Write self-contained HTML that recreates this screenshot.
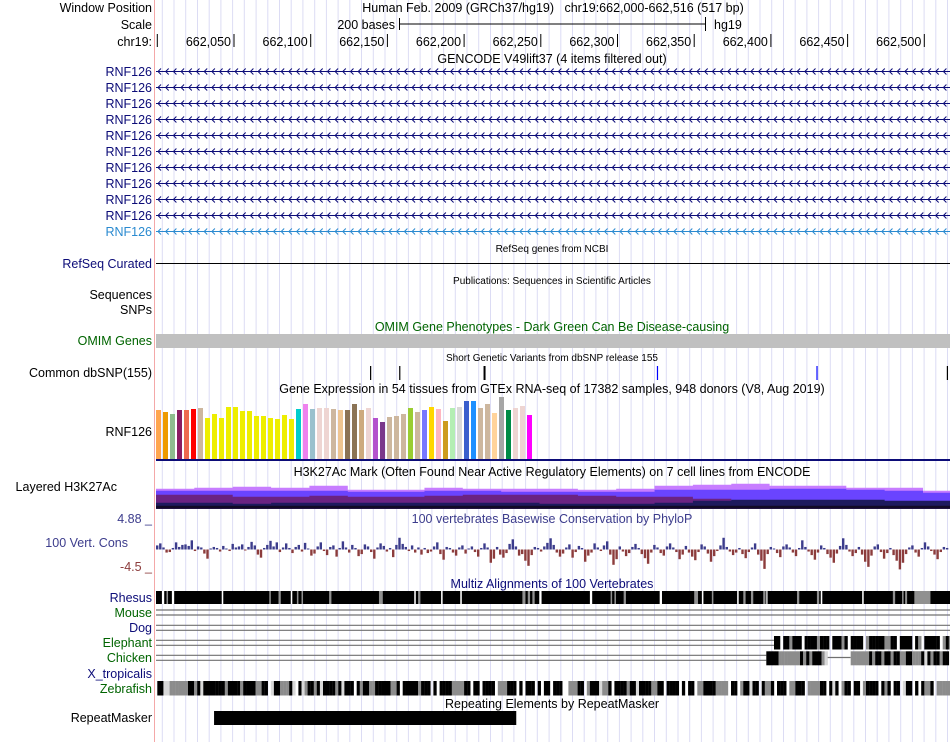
<!DOCTYPE html>
<html><head><meta charset="utf-8"><style>
html,body{margin:0;padding:0;background:#fff}
svg{display:block;font-family:"Liberation Sans",sans-serif}
</style></head><body>
<svg id="s" width="950" height="742" xmlns="http://www.w3.org/2000/svg">
<rect width="950" height="742" fill="#fff"/>
<g id="grid"></g>
<line x1="154.5" y1="0" x2="154.5" y2="742" stroke="#f4a8a8" stroke-width="1"/>
<g font-size="12.5" fill="#000" text-anchor="end">
<text x="152" y="12">Window Position</text>
<text x="152" y="29">Scale</text>
<text x="152" y="46">chr19:</text>
</g>
<text x="553" y="12" font-size="12.5" text-anchor="middle" xml:space="preserve">Human Feb. 2009 (GRCh37/hg19)   chr19:662,000-662,516 (517 bp)</text>
<text x="395" y="29" font-size="12.5" text-anchor="end">200 bases</text>
<line x1="399.5" y1="24" x2="705.5" y2="24" stroke="#000"/>
<line x1="399.5" y1="18" x2="399.5" y2="30" stroke="#000"/>
<line x1="705.5" y1="17" x2="705.5" y2="31" stroke="#000"/>
<text x="714" y="29" font-size="12.5">hg19</text>
<g id="ruler"></g>
<text x="552" y="63" font-size="12.5" text-anchor="middle">GENCODE V49lift37 (4 items filtered out)</text>
<g id="genes"></g>
<text x="552" y="252" font-size="10" text-anchor="middle">RefSeq genes from NCBI</text>
<text x="152" y="268" font-size="12.5" fill="#0c0c78" text-anchor="end">RefSeq Curated</text>
<line x1="156" y1="263.5" x2="950" y2="263.5" stroke="#000"/>
<text x="552" y="284" font-size="10" text-anchor="middle">Publications: Sequences in Scientific Articles</text>
<text x="152" y="299" font-size="12.5" text-anchor="end">Sequences</text>
<text x="152" y="314" font-size="12.5" text-anchor="end">SNPs</text>
<text x="552" y="331" font-size="12.5" fill="#006400" text-anchor="middle">OMIM Gene Phenotypes - Dark Green Can Be Disease-causing</text>
<text x="152" y="345" font-size="12.5" fill="#006400" text-anchor="end">OMIM Genes</text>
<rect x="156" y="334" width="794" height="14" fill="#c0c0c0"/>
<text x="552" y="361" font-size="10" text-anchor="middle">Short Genetic Variants from dbSNP release 155</text>
<text x="152" y="377" font-size="12.5" text-anchor="end">Common dbSNP(155)</text>
<g id="snps"></g>
<text x="552" y="393" font-size="12.5" text-anchor="middle">Gene Expression in 54 tissues from GTEx RNA-seq of 17382 samples, 948 donors (V8, Aug 2019)</text>
<text x="152" y="436" font-size="12.5" text-anchor="end">RNF126</text>
<g id="gtex"></g>
<rect x="156" y="459" width="794" height="2" fill="#0c0c78"/>
<text x="552" y="476" font-size="12.5" text-anchor="middle">H3K27Ac Mark (Often Found Near Active Regulatory Elements) on 7 cell lines from ENCODE</text>
<text x="117" y="491" font-size="12.5" text-anchor="end">Layered H3K27Ac</text>
<g id="h3k"></g>
<text x="152" y="523" font-size="12.5" fill="#3c3c8c" text-anchor="end">4.88 _</text>
<text x="552" y="523" font-size="12.5" fill="#3c3c8c" text-anchor="middle">100 vertebrates Basewise Conservation by PhyloP</text>
<text x="128" y="547" font-size="12.5" fill="#3c3c8c" text-anchor="end">100 Vert. Cons</text>
<text x="152" y="571" font-size="12.5" fill="#8c3c3c" text-anchor="end">-4.5 _</text>
<g id="cons"></g>
<text x="552" y="588" font-size="12.5" fill="#0c0c78" text-anchor="middle">Multiz Alignments of 100 Vertebrates</text>
<g font-size="12.5" text-anchor="end">
<text x="152" y="602" fill="#0c0c78">Rhesus</text>
<text x="152" y="617" fill="#006400">Mouse</text>
<text x="152" y="632" fill="#0c0c78">Dog</text>
<text x="152" y="647" fill="#006400">Elephant</text>
<text x="152" y="662" fill="#006400">Chicken</text>
<text x="152" y="678" fill="#0c0c78">X_tropicalis</text>
<text x="152" y="693" fill="#006400">Zebrafish</text>
</g>
<g id="multiz"></g>
<text x="552" y="708" font-size="12.5" text-anchor="middle">Repeating Elements by RepeatMasker</text>
<text x="152" y="722" font-size="12.5" text-anchor="end">RepeatMasker</text>
<g id="rmsk"></g>
</svg>
<script>
// ---- data ----
const tickLabels=["","662,050","662,100","662,150","662,200","662,250","662,300","662,350","662,400","662,450","662,500"];
const tickBp=[0,50,100,150,200,250,300,350,400,450,500];
const geneRows=["RNF126","RNF126","RNF126","RNF126","RNF126","RNF126","RNF126","RNF126","RNF126","RNF126","RNF126"];
const snpBp=[139,158,213,326,430,515];
const snpColors=["#000","#000","#000","#0000ff","#0000ff","#000"];
const gtexValues=[49,47,45,49,49,50,51,41,45,41,52,52,48,48,43,43,41,40,44,40,50,55,50,51,51,50,49,49,55,49,51,41,37,42,43,45,51,47,49,52,50,38,51,52,58,58,51,55,46,62,49,51,53,44];
const gtexColors=["#FFA54F","#EE9A00","#8FBC8F","#8B1C62","#EE6A50","#FF0000","#CDB79E","#EEEE00","#EEEE00","#EEEE00","#EEEE00","#EEEE00","#EEEE00","#EEEE00","#EEEE00","#EEEE00","#EEEE00","#EEEE00","#EEEE00","#EEEE00","#00CDCD","#EE82EE","#9AC0CD","#EED5D2","#EED5D2","#CDB79E","#EEC591","#8B7355","#8B7355","#CDAA7D","#EED5D2","#B452CD","#7A378B","#CDB79E","#CDB79E","#CDB79E","#9ACD32","#CDB79E","#7777FF","#FFD700","#FFB6C1","#CD9B1D","#B4EEB4","#D9D9D9","#3A5FCD","#1E90FF","#CDB79E","#CDB79E","#FFD39B","#A6A6A6","#008B45","#EED5D2","#EED5D2","#FF00FF"];
const h3kLight=[20,21,22,21,23,19,19,21,20,20,20,19,20,23,24,25,23,23,21,21,18];
const h3kBlue=[18,18,18,18,18,17,17,18,18,17,17,17,17,19,19,19,20,20,19,18,16];
const h3kPurple=[14,14,12,12,13,12,12,13,14,14,14,13,12,12,10,8,7,7,7,7,6];
const h3kNavy=[6,6,5,6,6,6,6,6,6,6,5,5,5,6,8,9,9,9,9,8,8];
const consValues=[0.8,1.2,0.4,-0.6,-0.5,0.3,1.4,0.5,0.9,1.0,0.7,1.8,-0.3,0.6,0.4,-0.8,-1.8,0.2,0.5,0.3,
-0.4,0.7,0.2,-0.3,1.1,0.4,0.6,1.0,-0.2,0.5,1.5,0.8,-1.0,-1.6,0.3,0.9,1.7,0.6,1.4,-0.5,
0.4,1.2,0.3,-0.7,0.5,0.9,-0.4,1.3,0.2,-1.2,-0.8,0.6,1.4,-0.3,-1.1,0.5,0.8,-1.4,0.3,1.6,
0.4,-0.6,0.9,0.3,-1.3,-0.9,1.0,0.6,-0.5,-1.8,0.4,1.2,0.7,-0.4,0.3,-1.5,0.9,2.3,1.1,0.5,
-0.3,0.8,-0.6,0.4,-1.0,0.3,-0.7,-0.4,0.6,1.4,-0.9,-2.0,0.5,0.3,-0.6,-1.2,0.4,0.8,-0.8,0.2,
0.6,-0.5,-1.4,0.3,1.2,0.4,-2.6,-1.8,0.5,-1.0,-1.6,-0.7,1.1,2.0,0.6,-1.2,-0.9,-2.2,-3.2,-1.1,
0.5,0.3,-0.4,0.6,1.3,2.2,0.9,-0.6,-1.4,-0.8,0.4,1.0,-1.6,-0.5,0.7,0.3,-2.4,-1.2,-0.6,1.2,
0.4,-0.3,0.8,1.6,-1.0,-3.0,-1.9,0.6,-0.4,-1.3,-0.7,0.5,1.1,0.3,-0.9,-1.7,-2.8,-0.6,0.9,0.4,
-0.7,-1.2,0.6,1.2,0.4,-0.5,-1.9,-1.0,0.7,-0.6,-1.4,-2.1,-0.5,1.0,0.6,-0.8,-2.4,-1.3,-0.3,0.8,
2.3,0.5,-0.4,-1.1,-0.6,0.3,-0.9,-1.7,-0.5,0.4,1.2,-1.0,-2.2,-3.8,-0.9,0.5,0.2,-0.7,-1.5,0.6,
1.0,0.4,-0.6,-1.3,0.3,1.8,0.5,-0.4,-1.1,-2.0,-0.6,0.8,0.3,-0.9,-1.6,-2.6,-0.8,0.7,2.2,0.9,
-0.4,-1.3,-0.7,0.5,-1.0,-2.4,-3.4,-1.2,0.6,1.0,-0.5,-1.8,-0.7,0.3,-1.1,-2.2,-3.9,-2.6,-0.9,0.4,
0.8,-0.6,-1.4,0.3,1.4,0.6,-0.3,-1.0,-1.9,-0.5,0.5,0.3];
const rhesusGapStart=[3,6,9.5,42,73,79,87,91,94,112,144.5,167.5,170,185,197.5,238,241.5,244.5,249,282,295.5,298,304,327.5,350,355,361.5,378,382,387,395,397,417,430,432.5,459.5,479.5,485.5,487.5,493.5];
const rhesusGapEnd=[4.5,7,11,43,74,80.5,88,92,95,113.5,147,168.5,171.5,186,198.5,240,243,246,250.5,283.5,296.5,299,305.5,329,352.5,356,362.5,379,383.5,388.5,396.5,397.8,418.5,431.5,433.5,460.5,481,486.5,488.8,504];
const rhesusGapType=["w","g","w","w","g","g","w","g","g","g","g","w","g","w","w","g","g","g","w","w","g","g","g","w","g","w","g","w","g","g","g","w","g","g","w","w","g","g","g","g"];
const elephantStart=402, elephantBlocks="KK KKGKKK KKKKGKKK KKKGK KKKK GKKKKKGGKK KKKK KG KKKKK GKGK";
const chickenStart=397, chickenBlocks="KKKKGGGGGGGKGKGKKKGL";
const chicken2Start=452, chicken2Blocks="GGGGGGKGKKGKKGKKGGKKGGGKLKGKKGKK";
const zebraStart=0, zebraBlocks="KKLLGGGGGGKKGKLKKKKKKKGKKKKGKKKKGGKK LKKGGGKL KLGKKGKLKKKKGKLKKK KGKKGGKKKKKGGK KKKKKGKKK K KKKKGGGGKK KK KKKK GGGKKK K KKK K KK KKK  GGGKK GKKKLGGK KKKKGKKLKKKKGGKK KKKK K KK GGKKKKGGGG KK GKKLKK KGGK KKK GGKKK GGGGKK KLK GKK KK GKKKK KGK KK LKK K KGGK GGGGGG";
const rmskStart=37, rmskEnd=234;

// ---- helpers ----
const NS="http://www.w3.org/2000/svg";
const X0=157.3, PX=1.534;
function xb(bp){return X0+bp*PX;}
function mk(tag,attrs,parent){const e=document.createElementNS(NS,tag);for(const k in attrs)e.setAttribute(k,attrs[k]);parent.appendChild(e);return e;}
const $=id=>document.getElementById(id);

// grid
for(let x=162.3;x<950;x+=11.72){
  const l=mk('line',{x1:x.toFixed(1),y1:0,x2:x.toFixed(1),y2:742,stroke:'#dcdcf4','stroke-width':1},$('grid'));
  
  
}
// ruler
tickBp.forEach((b,i)=>{
  const x=xb(b);
  const t=mk('line',{x1:x,y1:34,x2:x,y2:47,stroke:'#000'},$('ruler'));
  
  
  if(tickLabels[i]){
    const tx=mk('text',{x:x-3,y:46,'font-size':12.5,'text-anchor':'end'},$('ruler'));
    tx.textContent=tickLabels[i];
    
    
  }
});
// genes
geneRows.forEach((name,i)=>{
  const y=71.5+16*i, last=i===geneRows.length-1, col=last?'#2a8ad0':'#0c0c78';
  const lb=mk('text',{x:152,y:y+4.5,'font-size':12.5,fill:col,'text-anchor':'end'},$('genes'));
  lb.textContent=name;
  
  
  let d=`M156 ${y} H950`;
  for(let x=158;x<948;x+=7.7)d+=` M${(x+3).toFixed(1)} ${y-3} L${x.toFixed(1)} ${y} L${(x+3).toFixed(1)} ${y+3}`;
  const p=mk('path',{d:d,stroke:col,fill:'none','stroke-width':1},$('genes'));
  
  
});
// snps
snpBp.forEach((b,i)=>{
  const x=xb(b);
  const r=mk('rect',{x:x-0.5,y:366,width:b===213?2:1.2,height:14,fill:snpColors[i]},$('snps'));
  
  
});
// gtex
const gMax=62, gH=62, gBase=459;
gtexValues.forEach((v,i)=>{
  const h=v/gMax*gH;
  const r=mk('rect',{x:156+i*7,y:gBase-h,width:5,height:h,fill:gtexColors[i]},$('gtex'));
  
  
});
// h3k27ac
const hBase=508.7, segW=38.35;
function layer(vals,color,name){
  let d=`M156 ${hBase}`;
  vals.forEach((v,i)=>{const x0=156+i*segW,x1=Math.min(950,x0+segW);d+=` L${x0.toFixed(1)} ${(hBase-v).toFixed(1)} L${x1.toFixed(1)} ${(hBase-v).toFixed(1)}`;});
  d+=` L950 ${hBase} Z`;
  const p=mk('path',{d:d,fill:color},$('h3k'));
  
  
}
layer(h3kLight,'#c77dff','h3k-layer-light');
layer(h3kBlue,'#6a44ff','h3k-layer-blue');
layer(h3kPurple,'#6b2382','h3k-layer-purple');
layer(h3kNavy,'#1e1a5e','h3k-layer-navy');
layer(h3kNavy.map(()=>3),'#120a26','h3k-layer-dark');
// conservation
const cZero=549.5, cScale=5.1, cStep=793/consValues.length;
consValues.forEach((v,i)=>{
  const h=Math.abs(v)*cScale;
  const r=mk('rect',{x:(156+i*cStep).toFixed(1),y:v>=0?cZero-h:cZero,width:2.4,height:Math.max(h,1),fill:v>=0?'#3c3c8c':'#8c3c3c'},$('cons'));
  
  
});
// multiz
const mz=$('multiz');
const rh=mk('rect',{x:156,y:591,width:794,height:13,fill:'#000'},mz);


rhesusGapStart.forEach((s,i)=>{
  const r=mk('rect',{x:xb(s),y:591,width:(rhesusGapEnd[i]-s)*PX,height:13,fill:rhesusGapType[i]==='w'?'#fff':'#909090'},mz);
  
  
});
function dbl(y1,y2,xEnd,name){
  [y1,y2].forEach(y=>{const l=mk('line',{x1:156,y1:y,x2:xEnd,y2:y,stroke:'#707070','stroke-width':1.2},mz);
  
  });
}
dbl(610,615,950,'mouse-alignment');
dbl(625.3,630.3,950,'dog-alignment');
dbl(640.3,645.3,xb(elephantStart),'elephant-alignment');
dbl(655.3,660.3,xb(chickenStart),'chicken-alignment');
const shade={K:'#000',G:'#8c8c8c',L:'#d8d8d8'};
function blocks(str,start,y,h,name){
  for(let i=0;i<str.length;i++){
    const c=str[i]; const b=start+i*2; if(b>517)break;
    if(c===' ')continue;
    const r=mk('rect',{x:xb(b).toFixed(1),y:y,width:(2*PX+0.2).toFixed(2),height:h,fill:shade[c]},mz);
    
    
  }
}
blocks(elephantBlocks,elephantStart,636,13.5,'elephant-block');
blocks(chickenBlocks,chickenStart,651.3,14,'chicken-block');
const cl=mk('line',{x1:xb(chickenStart+chickenBlocks.length*2),y1:657.5,x2:xb(chicken2Start),y2:657.5,stroke:'#707070','stroke-width':1.2},mz);


blocks(chicken2Blocks,chicken2Start,651.3,14,'chicken-block');
blocks(zebraBlocks,zebraStart,681,14.5,'zebrafish-block');
// repeatmasker
const rm=mk('rect',{x:xb(rmskStart),y:711,width:(rmskEnd-rmskStart)*PX,height:14,fill:'#000'},$('rmsk'));


</script>
</body></html>
